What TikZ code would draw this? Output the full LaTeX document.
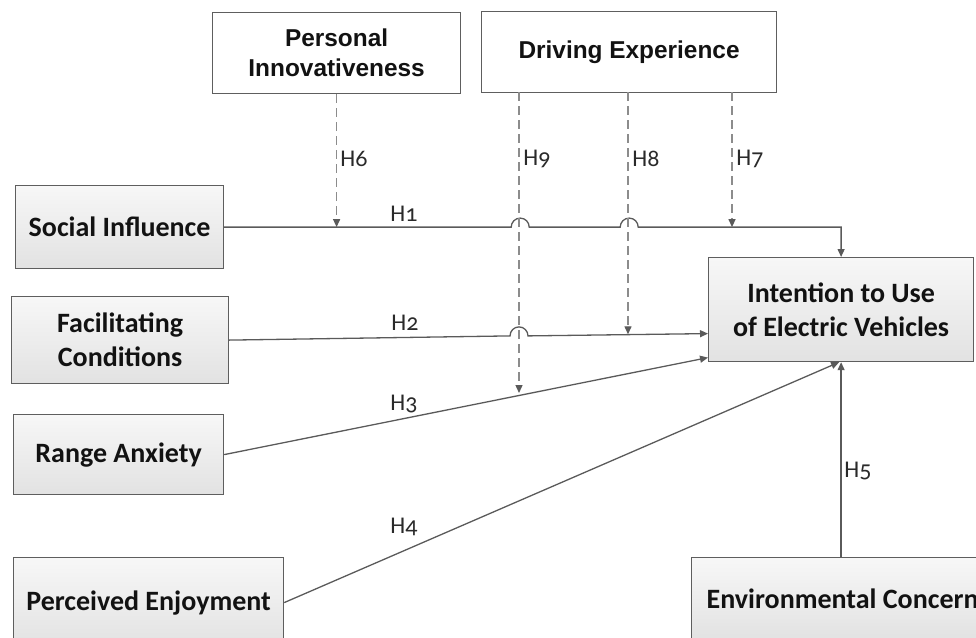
\documentclass[tikz,border=0pt]{standalone}
\usepackage{fontspec}
\setmainfont{Carlito}
\newfontfamily\arialfont{Liberation Sans}
\newfontfamily\labfont{Carlito}[Numbers=OldStyle]
\usetikzlibrary{arrows.meta,calc}
\definecolor{linegray}{HTML}{5A5A5A}
\definecolor{dashgray}{HTML}{8C8C8C}
\definecolor{boxedge}{HTML}{5E5E5E}
\definecolor{shadetop}{HTML}{F7F7F7}
\definecolor{shadebot}{HTML}{E2E2E2}
\definecolor{txt}{HTML}{121212}
\definecolor{labtxt}{HTML}{2A2A2A}
\begin{document}
\begin{tikzpicture}[x=1pt,y=-1pt,
  shadebox/.style={draw=boxedge, line width=1.2pt, top color=shadetop, bottom color=shadebot,
    anchor=north west, inner sep=0pt, align=center, text=txt,
    font=\fontsize{28}{34}\selectfont\bfseries},
  plainbox/.style={draw=boxedge, fill=white, line width=1.2pt,
    anchor=north west, inner sep=0pt, align=center, text=txt,
    font=\arialfont\bfseries\fontsize{24.4}{30}\selectfont},
  conn/.style={draw=linegray, line width=1.3pt},
  tip/.style={-{Triangle[length=8pt,width=7pt]}},
  dashconn/.style={draw=dashgray, line width=1.3pt, dash pattern=on 9pt off 5pt,
    -{Triangle[length=8pt,width=7pt,fill=linegray,color=linegray]}},
  lab/.style={text=labtxt, inner sep=0pt, font=\labfont\fontsize{24}{26}\selectfont}
]
\useasboundingbox (0,0) rectangle (976,637);
\clip (0,0) rectangle (976,637);

% boxes
\node[plainbox, minimum width=248pt, minimum height=81pt] (pi) at (212,12) {Personal\\Innovativeness};
\node[plainbox, minimum width=295pt, minimum height=81pt] (de) at (481,11) {Driving Experience};
\node[shadebox, minimum width=208pt, minimum height=83pt] (si) at (15,185) {Social Influence};
\node[shadebox, minimum width=217pt, minimum height=87pt] (fc) at (11,296) {Facilitating\\Conditions};
\node[shadebox, minimum width=210pt, minimum height=80pt] (ra) at (13,414) {Range Anxiety};
\node[shadebox, minimum width=270pt, minimum height=90pt] (pe) at (13,557) {Perceived Enjoyment};
\node[shadebox, minimum width=265pt, minimum height=104pt] (int) at (708,257) {Intention to Use\\of Electric Vehicles};
\node[shadebox, minimum width=302pt, minimum height=82pt] (ec) at (691,557) {Environmental Concern};

% moderator start points
\coordinate (h9top) at (519,92);
\coordinate (h8top) at (628,92);
\coordinate (h7top) at (732,92);
\coordinate (h9end) at (519,393);
\coordinate (h8end) at (628,334.3);

% H1 with line hops
\draw[conn, tip] (si.east) -- ++(287,0) arc[start angle=180, end angle=0, radius=9pt]
  -- ++(91,0) arc[start angle=180, end angle=0, radius=9pt] -| (int.north);
% H2 with line hop
\draw[conn, tip] (fc.east) -- (510,335.9) arc[start angle=180, end angle=0, radius=9pt]
  -- ([yshift=-24pt]int.west);
% H3
\draw[conn, tip] (ra.east) -- ([yshift=-48pt]int.west);
% H4
\draw[conn, tip] (pe.east) -- ([xshift=-2pt]int.south);
% H5
\draw[conn, tip] (int.south |- ec.north) -- (int.south);

% moderating (dashed) paths
\draw[dashconn] (pi.south) -- (pi.south |- si.east);
\draw[dashconn] (h9top) -- (h9end);
\draw[dashconn] (h8top) -- (h8end);
\draw[dashconn] (h7top) -- (h7top |- si.east);

% labels
\node[lab] (l1) at (404,214) {H1};
\node[lab] (l2) at (405,323) {H2};
\node[lab] (l3) at (404,404) {H3};
\node[lab] (l4) at (404,527) {H4};
\node[lab] (l5) at (858,471) {H5};
\node[lab] (l6) at (354,159) {H6};
\node[lab] (l9) at (537,159) {H9};
\node[lab] (l8) at (646,159) {H8};
\node[lab] (l7) at (750,159) {H7};
\end{tikzpicture}
\end{document}
